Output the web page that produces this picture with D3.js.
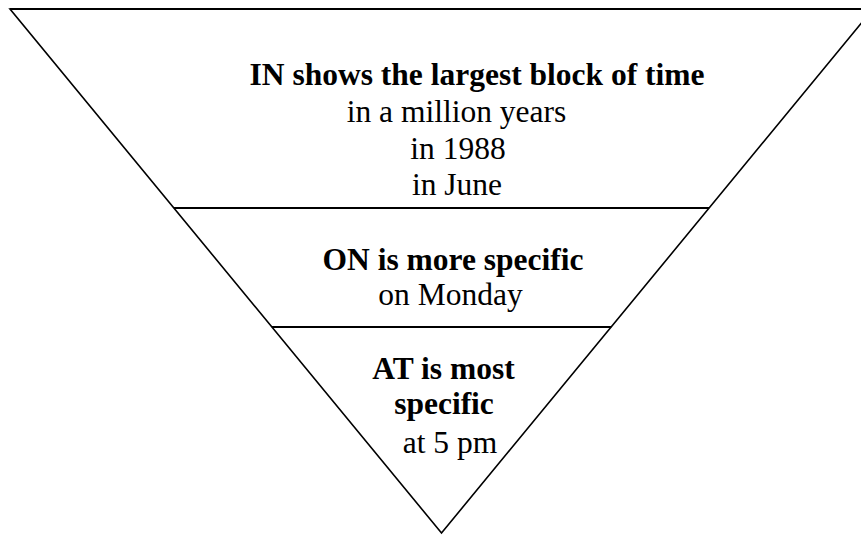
<!DOCTYPE html>
<html>
<head>
<meta charset="utf-8">
<script src="https://cdn.jsdelivr.net/npm/d3@7"></script>
<style>
  body { margin: 0; background: #fff; }
  svg { display: block; }
</style>
</head>
<body>
<div id="chart"></div>
<script>
// levels of the funnel, top to bottom (depth 0 = top edge, 100 = apex)
var levels = ["IN", "ON", "AT"];
var bandTops = [0, 38, 60.7];
var headings = [
  ["IN shows the largest block of time"],
  ["ON is more specific"],
  ["AT is most", "specific"]
];
var examples = [
  ["in a million years", "in 1988", "in June"],
  ["on Monday"],
  ["at 5 pm"]
];

var width = 861, height = 535;

// layout: baseline and centre x of every text line in each band
var baselines = [[85, 122, 159, 195], [270, 305], [379, 414, 453]];
var centres = [[477, 456.5, 458, 457], [453, 450.5], [443.5, 444, 450]];

var svg = d3.select("#chart")
  .append("svg")
    .attr("width", width)
    .attr("height", height);

// depth -> y pixel
var y = d3.scaleLinear().domain([0, 100]).range([9, 533]);
// depth -> half width of the triangle at that depth
var halfW = d3.scaleLinear().domain([0, 100]).range([431.5, 0]);
var cx = 441.5;

// triangle outline
var tri = [[cx - halfW(0), y(0)], [cx + halfW(0), y(0)], [cx, y(100)]];
svg.append("path")
  .attr("d", d3.line()(tri) + "Z")
  .attr("fill", "none")
  .attr("stroke", "#000")
  .attr("stroke-width", 1.6);

// top edge a bit heavier
svg.append("line")
  .attr("x1", cx - halfW(0)).attr("x2", cx + halfW(0))
  .attr("y1", y(0)).attr("y2", y(0))
  .attr("stroke", "#000")
  .attr("stroke-width", 2);

// dividers between the bands
svg.selectAll(".divider")
  .data(bandTops.slice(1))
  .enter().append("line")
    .attr("class", "divider")
    .attr("x1", function(d) { return cx - halfW(d); })
    .attr("x2", function(d) { return cx + halfW(d); })
    .attr("y1", function(d) { return y(d); })
    .attr("y2", function(d) { return y(d); })
    .attr("stroke", "#000")
    .attr("stroke-width", 2);

// text in each band
levels.forEach(function(lv, i) {
  var lines = headings[i].map(function(t) { return {t: t, b: true}; })
    .concat(examples[i].map(function(t) { return {t: t, b: false}; }));
  svg.append("g")
    .attr("class", "band-" + lv)
    .selectAll("text")
    .data(lines)
    .enter().append("text")
      .attr("x", function(d, j) { return centres[i][j]; })
      .attr("y", function(d, j) { return baselines[i][j]; })
      .attr("text-anchor", "middle")
      .style("font-family", "'Liberation Serif', 'Times New Roman', serif")
      .style("font-size", "31.5px")
      .style("font-weight", function(d) { return d.b ? "bold" : "normal"; })
      .text(function(d) { return d.t; });
});
</script>
</body>
</html>
